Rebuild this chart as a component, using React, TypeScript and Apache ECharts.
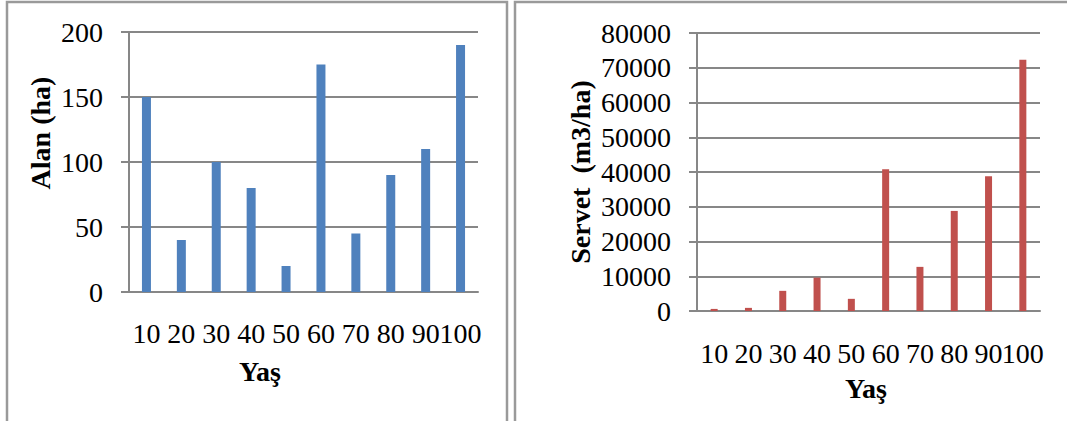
import React, { useEffect, useRef } from "react";
import * as echarts from "echarts";

// Age classes (Yaş) shared by both charts
const ages = ["10", "20", "30", "40", "50", "60", "70", "80", "90", "100"];
// Area per age class (ha)
const alanValues = [150, 40, 100, 80, 20, 175, 45, 90, 110, 190];
// Growing stock per age class (m3/ha)
const servetValues = [600, 900, 5800, 9600, 3500, 40800, 12700, 28800, 38800, 72300];

const alanAxis = { min: 0, max: 200, interval: 50 };
const servetAxis = { min: 0, max: 80000, interval: 10000 };

const FONT = "'Liberation Serif', 'Times New Roman', serif";
const GRID_COLOR = "#878787";

export default function App() {
  const ref = useRef<HTMLDivElement>(null);

  useEffect(() => {
    if (!ref.current) return;
    const chart = echarts.init(ref.current, undefined, { renderer: "svg" });

    const yAxisBase = (cfg: { min: number; max: number; interval: number }, gridIndex: number) => ({
      type: "value" as const,
      gridIndex,
      min: cfg.min,
      max: cfg.max,
      interval: cfg.interval,
      axisLine: { show: true, lineStyle: { color: GRID_COLOR, width: 2 } },
      axisTick: { show: true, length: 8, lineStyle: { color: GRID_COLOR, width: 2 } },
      axisLabel: {
        color: "#000",
        fontFamily: FONT,
        fontSize: 28,
        margin: 26,
        padding: [7, 0, 0, 0],
        formatter: (v: number) => String(v),
      },
      splitLine: { show: true, lineStyle: { color: GRID_COLOR, width: 2 } },
    });

    const xAxisBase = (gridIndex: number, margin: number) => ({
      type: "category" as const,
      gridIndex,
      data: ages,
      axisLine: { show: true, lineStyle: { color: GRID_COLOR, width: 2 } },
      axisTick: { show: false },
      axisLabel: {
        color: "#000",
        fontFamily: FONT,
        fontSize: 28,
        margin,
        interval: 0,
        hideOverlap: false,
      },
    });

    const titleText = (text: string, x: number, y: number, rotation = 0) => ({
      type: "text" as const,
      x,
      y,
      rotation,
      style: {
        text,
        fill: "#000",
        font: `bold 28px ${FONT}`,
        align: "center",
        verticalAlign: "middle",
      },
    });

    chart.setOption({
      animation: false,
      backgroundColor: "#fff",
      grid: [
        { left: 129, top: 32, width: 349, height: 260 },
        { left: 697, top: 33, width: 343, height: 278 },
      ],
      xAxis: [xAxisBase(0, 27), xAxisBase(1, 28)],
      yAxis: [yAxisBase(alanAxis, 0), yAxisBase(servetAxis, 1)],
      series: [
        {
          type: "bar",
          xAxisIndex: 0,
          yAxisIndex: 0,
          data: alanValues,
          barWidth: 9,
          itemStyle: { color: "#4F81BD" },
        },
        {
          type: "bar",
          xAxisIndex: 1,
          yAxisIndex: 1,
          data: servetValues,
          barWidth: 7,
          itemStyle: { color: "#C0504D" },
        },
      ],
      graphic: [
        {
          type: "rect",
          shape: { x: 7, y: 2, width: 500, height: 460 },
          style: { fill: "none", stroke: "#9a9a9a", lineWidth: 2.5 },
          silent: true,
        },
        {
          type: "rect",
          shape: { x: 515, y: 2, width: 600, height: 460 },
          style: { fill: "none", stroke: "#9a9a9a", lineWidth: 2.5 },
          silent: true,
        },
        titleText("Alan (ha)", 40, 133, Math.PI / 2),
        titleText("Yaş", 260, 371),
        titleText("Servet  (m3/ha)", 580, 172, Math.PI / 2),
        titleText("Yaş", 866, 388),
      ],
    });

    return () => chart.dispose();
  }, []);

  return (
    <div
      ref={ref}
      style={{ position: "absolute", left: 0, top: 0, width: 1067, height: 421 }}
    />
  );
}
